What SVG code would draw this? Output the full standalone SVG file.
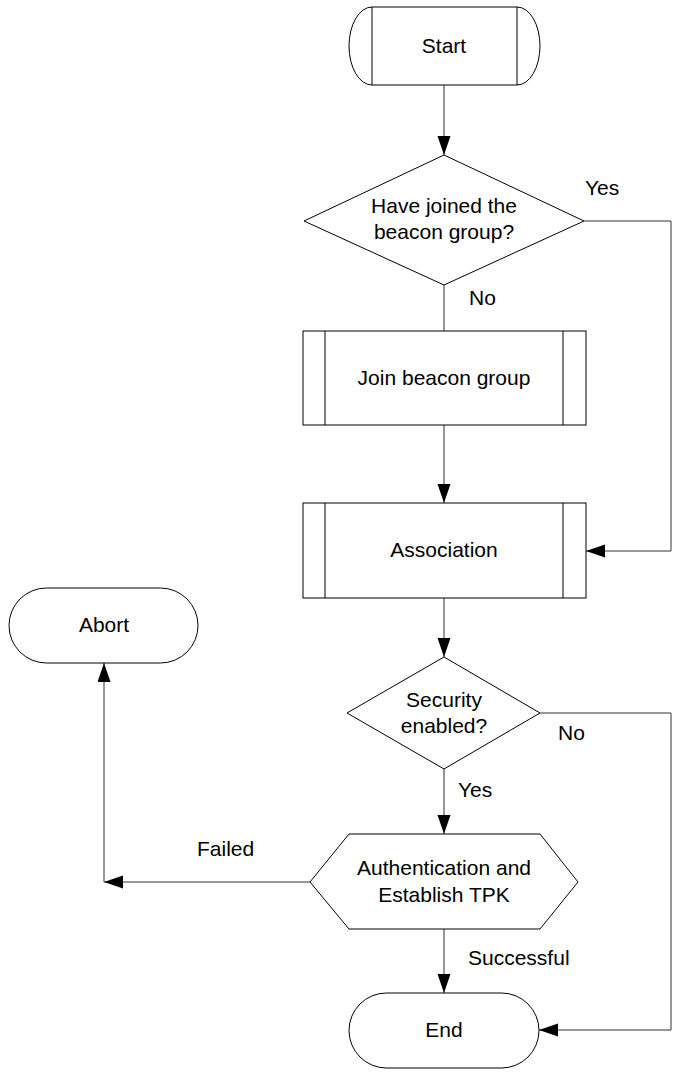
<svg xmlns="http://www.w3.org/2000/svg" width="675" height="1077" viewBox="0 0 675 1077">
<defs>
<marker id="arr" markerUnits="userSpaceOnUse" markerWidth="20" markerHeight="14" refX="19" refY="6.5" orient="auto">
<path d="M0,0 L19,6.5 L0,13 Z" fill="#000"/>
</marker>
<style>
.s{fill:#fff;stroke:#000;stroke-width:1}
.c{fill:none;stroke:#333;stroke-width:1}
.t{font-family:"Liberation Sans",Arial,sans-serif;font-size:21px;fill:#000}
.m{text-anchor:middle}
</style>
</defs>
<rect width="675" height="1077" fill="#fff"/>
<g id="connectors">
<path class="c" d="M444,85 V155" marker-end="url(#arr)"/>
<path class="c" d="M584,221 H671 V551 H586" marker-end="url(#arr)"/>
<path class="c" d="M444,285 V331"/>
<path class="c" d="M444,425 V503" marker-end="url(#arr)"/>
<path class="c" d="M444,598 V657" marker-end="url(#arr)"/>
<path class="c" d="M540,713 H671 V1030 H539" marker-end="url(#arr)"/>
<path class="c" d="M444,769 V834" marker-end="url(#arr)"/>
<path class="c" d="M310,882 H104" marker-end="url(#arr)"/>
<path class="c" d="M104,882 V663" marker-end="url(#arr)"/>
<path class="c" d="M444,929 V993" marker-end="url(#arr)"/>
<text class="t" x="585" y="195">Yes</text>
<text class="t" x="469" y="305">No</text>
<text class="t" x="558" y="740">No</text>
<text class="t" x="458" y="797">Yes</text>
<text class="t" x="197" y="856">Failed</text>
<text class="t" x="468" y="965">Successful</text>
</g>
<g id="start">
<path class="s" d="M372,7 H517 A23,39 0 0 1 517,85 H372 A23,39 0 0 1 372,7 Z"/>
<path class="s" d="M372,7 V85 M517,7 V85"/>
<text class="t m" x="444" y="53">Start</text>
</g>
<g id="joined">
<polygon class="s" points="444,155 584,221 444,285 304,221"/>
<text class="t m" x="444" y="213">Have joined the</text>
<text class="t m" x="444" y="239">beacon group?</text>
</g>
<g id="join">
<rect class="s" x="303" y="331" width="283" height="94"/>
<path class="s" d="M325,331 V425 M563,331 V425"/>
<text class="t m" x="444" y="385">Join beacon group</text>
</g>
<g id="association">
<rect class="s" x="303" y="503" width="283" height="95"/>
<path class="s" d="M325,503 V598 M563,503 V598"/>
<text class="t m" x="444" y="557">Association</text>
</g>
<g id="abort">
<rect class="s" x="9" y="588" width="189" height="75" rx="37.5" ry="37.5"/>
<text class="t m" x="104" y="632">Abort</text>
</g>
<g id="security">
<polygon class="s" points="444,657 540,713 444,769 347,713"/>
<text class="t m" x="444" y="707">Security</text>
<text class="t m" x="444" y="733">enabled?</text>
</g>
<g id="auth">
<polygon class="s" points="310,882 349,834 540,834 578,882 540,929 349,929"/>
<text class="t m" x="444" y="875">Authentication and</text>
<text class="t m" x="444" y="902">Establish TPK</text>
</g>
<g id="end">
<rect class="s" x="349" y="993" width="190" height="75" rx="37.5" ry="37.5"/>
<text class="t m" x="444" y="1037">End</text>
</g>
</svg>
